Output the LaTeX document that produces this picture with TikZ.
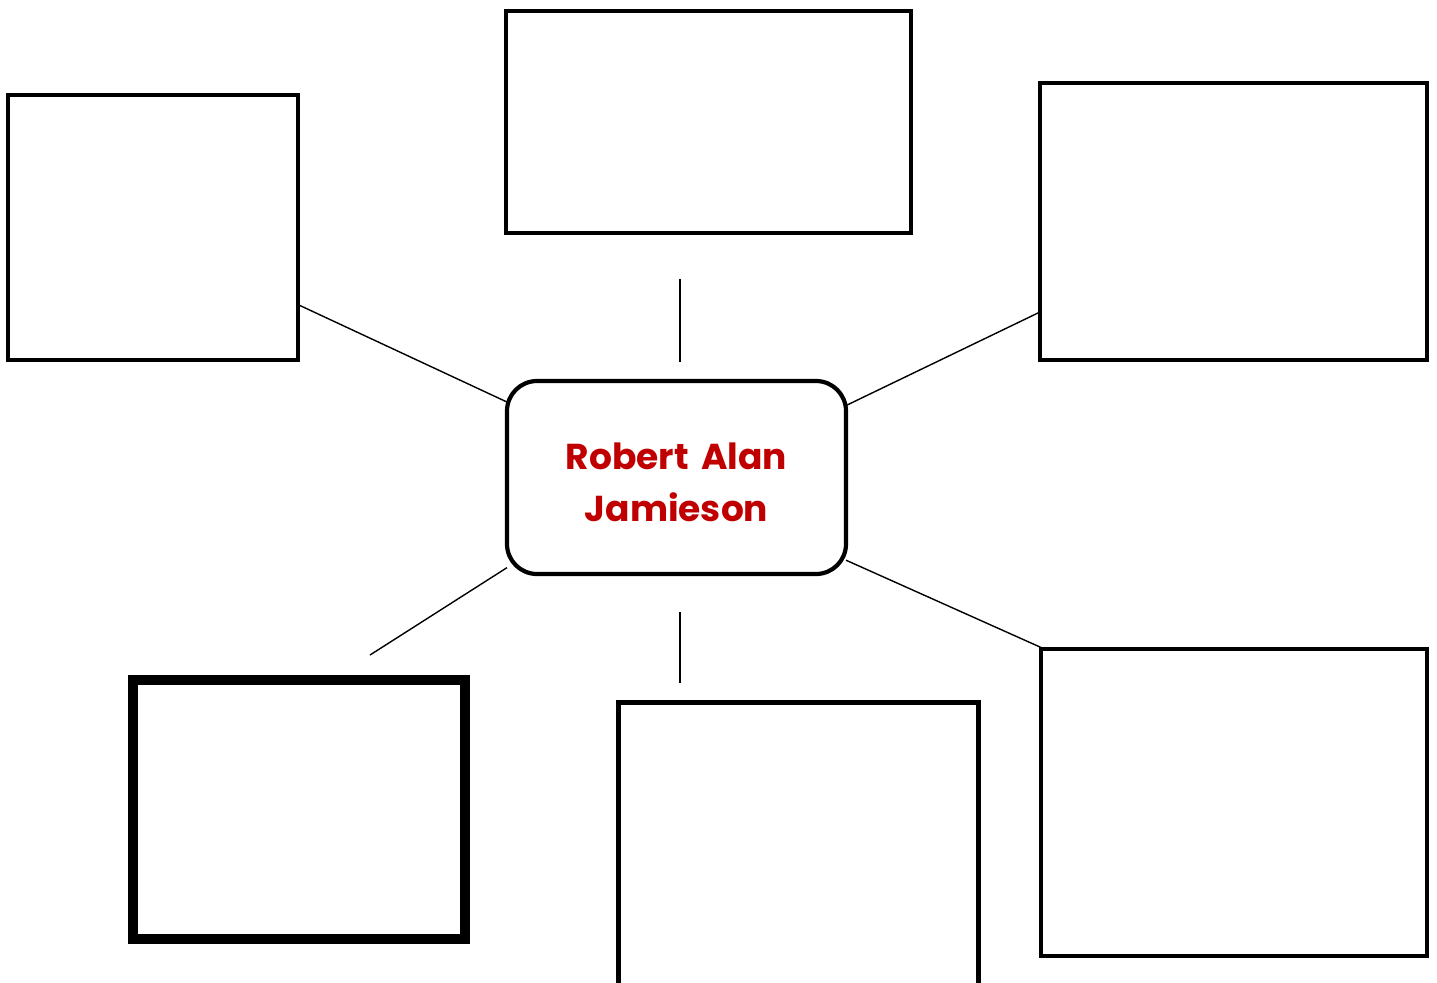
\documentclass[tikz,border=0pt]{standalone}
\usepackage{fontspec}
\newfontfamily\comicfont{Poppins}[WordSpace={1.6}]
\definecolor{namered}{HTML}{C00000}
\tikzset{
  every node/.style={inner sep=0pt, outer sep=0pt},
  emptybox/.style={draw, line width=2.1pt, rectangle},
  thickbox/.style={draw, line width=5pt, rectangle},
  hubbox/.style={draw, line width=2.1pt, rounded corners=15pt},
  hubtext/.style={align=center,
    font=\comicfont\bfseries\fontsize{18}{26}\selectfont, text=namered},
  link/.style={line width=0.7pt}
}
\begin{document}
\begin{tikzpicture}[x=0.5pt, y=-0.5pt]
\clip (0,0) rectangle (1437,982);
\fill[white] (0,0) rectangle (1437,982);
\node[emptybox, minimum width=145pt, minimum height=132.5pt] (tl) at (153,227.5) {};
\node[emptybox, minimum width=202.5pt, minimum height=111pt] (tc) at (708.5,122) {};
\node[emptybox, minimum width=193.5pt, minimum height=138.5pt] (tr) at (1233.5,221.5) {};
\node[thickbox, minimum width=166pt, minimum height=129.75pt] (bl) at (299,809.25) {};
\node[emptybox, minimum width=180pt, minimum height=160pt] (bc) at (798.5,862.5) {};
\node[emptybox, minimum width=193pt, minimum height=153.5pt] (br) at (1234,802.5) {};
\node[hubbox, minimum width=169.5pt, minimum height=96.5pt] (hub) at (676.5,477.5) {};
\node[hubtext] (name) at (676.5,482) {Robert Alan\\Jamieson};
\coordinate (uptop) at (680,279);
\coordinate (upbot) at (680,362);
\coordinate (dntop) at (680,612);
\coordinate (dnbot) at (680,683);
\coordinate (blend) at (370,655);
\draw[link] (tl.-28.4) -- (hub.156.4);
\draw[link] (uptop) -- (upbot);
\draw[link] (hub.23.5) -- ([yshift=-45.25pt]tr.west);
\draw[link] (hub.208.5) -- (blend);
\draw[link] (dntop) -- (dnbot);
\draw[link] (hub.-26.2) -- (br.141.3);
\end{tikzpicture}
\end{document}
